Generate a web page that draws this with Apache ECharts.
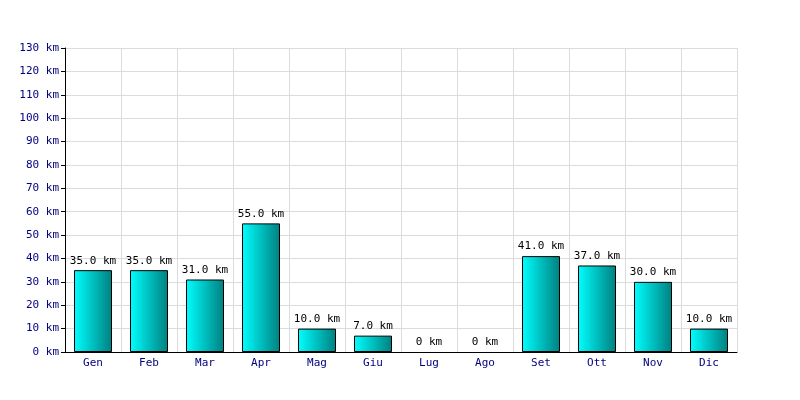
<!DOCTYPE html>
<html><head><meta charset="utf-8">
<script src="https://cdn.jsdelivr.net/npm/echarts@6/dist/echarts.min.js"></script>
<style>html,body{margin:0;padding:0;background:#fff}#c{width:800px;height:400px}</style>
</head><body><div id="c"></div>
<script>
const categories = ['Gen','Feb','Mar','Apr','Mag','Giu','Lug','Ago','Set','Ott','Nov','Dic'];
const values = [35,35,31,55,10,7,0,0,41,37,30,10];
const chart = echarts.init(document.getElementById('c'));
const font = 'DejaVu Sans Mono';
chart.setOption({
  animation:false,
  grid:{left:65,right:63,top:48,bottom:48},
  xAxis:{type:'category',data:categories,
    axisLine:{lineStyle:{color:'#000',width:1}},
    axisTick:{show:false},
    axisLabel:{color:'#000080',fontFamily:font,fontSize:11,margin:6},
    splitLine:{show:true,lineStyle:{color:'#dcdcdc',width:1}}
  },
  yAxis:{type:'value',min:0,max:130,interval:10,
    axisLine:{show:true,lineStyle:{color:'#000',width:1}},
    axisTick:{show:true,length:4,lineStyle:{color:'#000'}},
    axisLabel:{color:'#000080',fontFamily:font,fontSize:11,margin:6,formatter:v=>v+' km'},
    splitLine:{lineStyle:{color:'#dcdcdc',width:1}}
  },
  series:[{type:'bar',barWidth:38,z:3,
    data:values.map(v=>v===0?{value:v,itemStyle:{borderWidth:0,opacity:0}}:v),
    itemStyle:{borderColor:'#000',borderWidth:1,
      color:new echarts.graphic.LinearGradient(0,0,1,0,[{offset:0,color:'#00ffff'},{offset:1,color:'#008080'}])},
    label:{show:true,position:'top',distance:4,color:'#000',fontFamily:font,fontSize:11,opacity:1,
      formatter:p=>p.value===0?'0 km':p.value.toFixed(1)+' km'}
  }]
});
</script></body></html>
